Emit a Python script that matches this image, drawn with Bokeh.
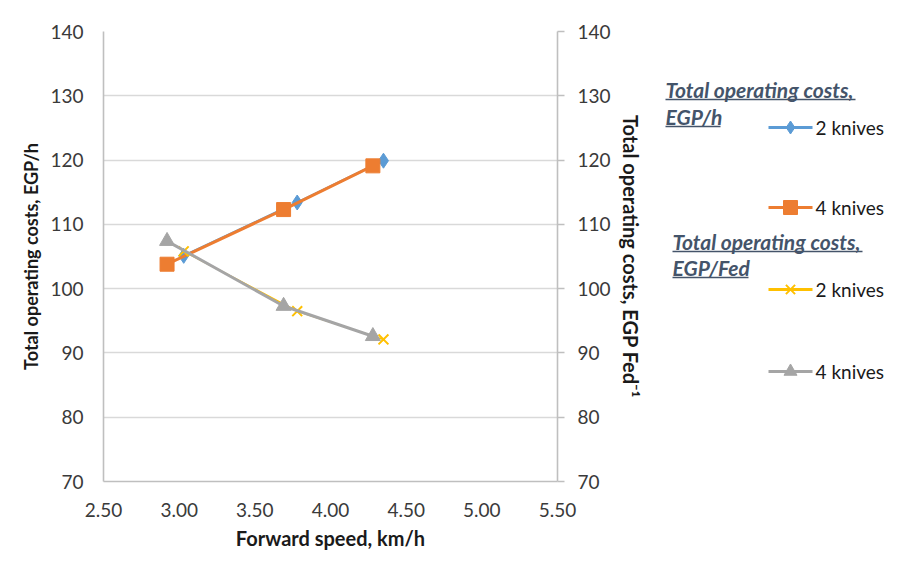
from bokeh.plotting import figure
from bokeh.models import Range1d, LinearAxis, FixedTicker, NumeralTickFormatter, BoxAnnotation
from bokeh.layouts import row
from bokeh.embed import file_html
from bokeh.resources import INLINE
from bokeh.core.properties import value

# ---- data -------------------------------------------------------------
speed_2_knives = [3.03, 3.78, 4.35]          # km/h
speed_4_knives = [2.92, 3.69, 4.28]          # km/h
cost_per_hour_2_knives = [105.1, 113.4, 119.9]   # EGP/h
cost_per_hour_4_knives = [103.8, 112.3, 119.1]   # EGP/h
cost_per_fed_2_knives = [105.8, 96.5, 92.1]      # EGP/Fed
cost_per_fed_4_knives = [107.4, 97.3, 92.6]      # EGP/Fed

x_ticks = [2.5, 3.0, 3.5, 4.0, 4.5, 5.0, 5.5]
y_ticks = [70, 80, 90, 100, 110, 120, 130, 140]

series_names = ["2 knives", " 4 knives", "2  knives", "4 knives"]
series_colors = ["#5B9BD5", "#ED7D31", "#FFC000", "#A5A5A5"]
series_markers = ["diamond", "square", "x", "triangle"]
series_sizes = [15, 14, 14, 15]
legend_sizes = [13, 14, 13, 13]
series_widths = [2.5, 3, 1.6, 3]
header_titles = [["Total operating costs,", "EGP/h"], ["Total operating costs,", "EGP/Fed"]]

FONT = "Lato"
TEXT = "#3a3a3a"
AXIS = "#BFBFBF"
GRID = "#D9D9D9"
HEADER = "#44546A"
FRAME = "#C8C8C8"

# plot frame: canvas rows 31..481
BORDER_TOP, BORDER_BOTTOM = 31, 89

# ---- main chart -------------------------------------------------------
p = figure(width=650, height=570, x_range=Range1d(2.5, 5.5), y_range=Range1d(70, 140),
           output_backend="svg", toolbar_location=None,
           min_border_left=103, min_border_right=93,
           min_border_top=BORDER_TOP, min_border_bottom=BORDER_BOTTOM)
p.outline_line_color = None
p.background_fill_color = "white"
p.border_fill_color = "white"
p.extra_y_ranges = {"right": Range1d(70, 140)}

p.xgrid.visible = False
p.ygrid.ticker = FixedTicker(ticks=y_ticks)
p.ygrid.grid_line_color = GRID
p.ygrid.grid_line_width = 1.6

xa = p.xaxis[0]
xa.ticker = FixedTicker(ticks=x_ticks)
xa.formatter = NumeralTickFormatter(format="0.00")
xa.axis_label = "Forward speed, km/h"
xa.major_label_standoff = 15
xa.axis_label_standoff = 6

ya = p.yaxis[0]
ya.ticker = FixedTicker(ticks=y_ticks)
ya.axis_label = "Total operating costs, EGP/h"
ya.major_label_standoff = 14
ya.axis_label_standoff = 5

ra = LinearAxis(y_range_name="right", ticker=FixedTicker(ticks=y_ticks),
                axis_label="Total operating costs, EGP Fed\u207b\u00b9")
p.add_layout(ra, "right")
ra.major_tick_out = 7
ra.major_tick_in = 0
ra.major_tick_line_color = AXIS
ra.major_tick_line_width = 1.6
ra.major_label_standoff = 13
ra.axis_label_standoff = 5

for ax in (xa, ya, ra):
    ax.axis_line_color = AXIS
    ax.axis_line_width = 1.6
    ax.minor_tick_line_color = None
    ax.major_label_text_font = FONT
    ax.major_label_text_font_size = "19px"
    ax.major_label_text_color = TEXT
    ax.axis_label_text_font = FONT
    ax.axis_label_text_font_size = "20px"
    ax.axis_label_text_font_style = "bold"
    ax.axis_label_text_color = "#1a1a1a"
ya.axis_label_text_font_size = "18px"
for ax in (xa, ya):
    ax.major_tick_line_color = None

xs = [speed_2_knives, speed_4_knives, speed_2_knives, speed_4_knives]
ys = [cost_per_hour_2_knives, cost_per_hour_4_knives, cost_per_fed_2_knives, cost_per_fed_4_knives]
for x, y, c, m, s, w in zip(xs, ys, series_colors, series_markers, series_sizes, series_widths):
    p.line(x, y, line_color=c, line_width=w)
    if m == "x":
        p.scatter(x, y, marker=m, size=s, line_color=c, line_width=2)
    else:
        p.scatter(x, y, marker=m, size=s, fill_color=c, line_color=c)

# chart-area frame (left and top edges)
p.add_layout(BoxAnnotation(left=8, right=700, top=9, bottom=700,
                           left_units="canvas", right_units="canvas",
                           top_units="canvas", bottom_units="canvas",
                           fill_alpha=0, line_color=FRAME, line_width=2))

# ---- legend panel (y data units equal canvas rows) ---------------------
lg = figure(width=251, height=570, x_range=Range1d(0, 251),
            y_range=Range1d(570 - BORDER_BOTTOM, BORDER_TOP),
            output_backend="svg", toolbar_location=None,
            min_border_left=0, min_border_right=0,
            min_border_top=BORDER_TOP, min_border_bottom=BORDER_BOTTOM,
            x_axis_type=None, y_axis_type=None)
lg.outline_line_color = None
lg.grid.visible = False
lg.background_fill_color = "white"
lg.border_fill_color = "white"
lg.add_layout(BoxAnnotation(left=-10, right=400, top=9, bottom=700,
                            left_units="canvas", right_units="canvas",
                            top_units="canvas", bottom_units="canvas",
                            fill_alpha=0, line_color=FRAME, line_width=2))

entry_y = [127, 207, 289, 371]
sample_x0, sample_x1, text_x = 118, 162, 165
for y, name, c, m, s in zip(entry_y, series_names, series_colors, series_markers, legend_sizes):
    lg.segment(x0=[sample_x0], y0=[y], x1=[sample_x1], y1=[y], line_color=c, line_width=3)
    if m == "x":
        lg.scatter([(sample_x0 + sample_x1) / 2], [y], marker=m, size=s, line_color=c, line_width=2)
    else:
        lg.scatter([(sample_x0 + sample_x1) / 2], [y], marker=m, size=s, fill_color=c, line_color=c)
    lg.text([text_x], [y], text=[name], text_font=value(FONT), text_font_size="19px",
            text_color="#1a1a1a", text_baseline="middle", text_align="left")

header_x = [15, 22]
header_y = [[89, 116], [241, 267]]
underline_w = [[190, 55], [190, 76]]
for hx, hys, titles, uws in zip(header_x, header_y, header_titles, underline_w):
    for hy, t, uw in zip(hys, titles, uws):
        lg.text([hx], [hy], text=[t], text_font=value(FONT), text_font_size="21px",
                text_font_style="bold italic", text_color=HEADER,
                text_baseline="middle", text_align="left")
        lg.segment(x0=[hx], y0=[hy + 10], x1=[hx + uw], y1=[hy + 10], line_color=HEADER, line_width=1.3)

layout = row(p, lg, spacing=0)
open("out.html", "w").write(file_html(layout, INLINE))
